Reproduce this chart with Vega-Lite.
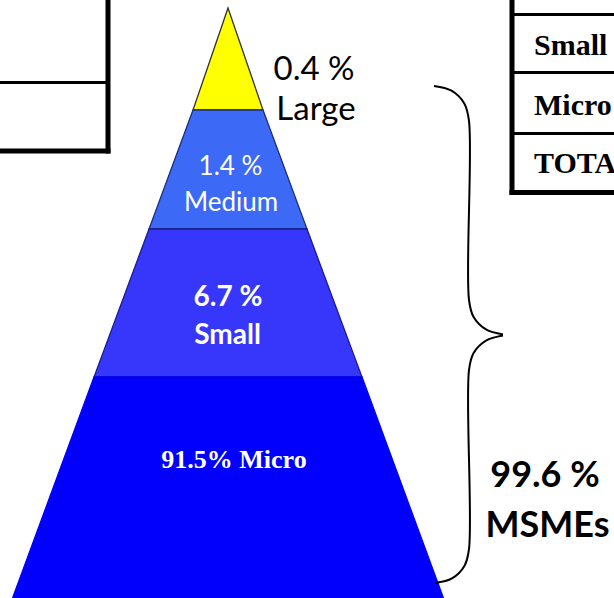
{
  "$schema": "https://vega.github.io/schema/vega-lite/v6.json",
  "width": 614,
  "height": 598,
  "padding": 0,
  "autosize": {"type": "none"},
  "background": "white",
  "config": {"view": {"stroke": null}},
  "datasets": {
    "tiers": [
      {"tier": "Large", "share": 0.4, "depth": 8, "left": 228, "right": 228},
      {"tier": "Large", "share": 0.4, "depth": 110, "left": 193, "right": 263},
      {"tier": "Medium", "share": 1.4, "depth": 110, "left": 193, "right": 263},
      {"tier": "Medium", "share": 1.4, "depth": 229, "left": 149, "right": 307},
      {"tier": "Small", "share": 6.7, "depth": 229, "left": 149, "right": 307},
      {"tier": "Small", "share": 6.7, "depth": 377, "left": 94, "right": 362},
      {"tier": "Micro", "share": 91.5, "depth": 377, "left": 94, "right": 362},
      {"tier": "Micro", "share": 91.5, "depth": 605, "left": 10, "right": 446}
    ],
    "brace": [
      {"half": "upper", "seq": 1, "x": 434, "y": 86},
      {"half": "upper", "seq": 2, "x": 451.5, "y": 90.7},
      {"half": "upper", "seq": 3, "x": 464.3, "y": 103.5},
      {"half": "upper", "seq": 4, "x": 469, "y": 121},
      {"half": "upper", "seq": 5, "x": 469, "y": 300},
      {"half": "upper", "seq": 6, "x": 473.6, "y": 317},
      {"half": "upper", "seq": 7, "x": 486, "y": 329.4},
      {"half": "upper", "seq": 8, "x": 503, "y": 334.5},
      {"half": "lower", "seq": 1, "x": 503, "y": 335.5},
      {"half": "lower", "seq": 2, "x": 486, "y": 340.6},
      {"half": "lower", "seq": 3, "x": 473.6, "y": 353},
      {"half": "lower", "seq": 4, "x": 469, "y": 370},
      {"half": "lower", "seq": 5, "x": 469, "y": 549},
      {"half": "lower", "seq": 6, "x": 464.4, "y": 566},
      {"half": "lower", "seq": 7, "x": 452, "y": 578.4},
      {"half": "lower", "seq": 8, "x": 435, "y": 583}
    ],
    "borders": [
      {"x1": 108, "x2": 108, "y1": -10, "y2": 151},
      {"x1": -10, "x2": 108, "y1": 151, "y2": 151},
      {"x1": 512, "x2": 512, "y1": -10, "y2": 192.5},
      {"x1": 512, "x2": 630, "y1": 192.5, "y2": 192.5}
    ],
    "gridlines": [
      {"x1": -10, "x2": 108, "y1": 82.5, "y2": 82.5},
      {"x1": 512, "x2": 630, "y1": 14.5, "y2": 14.5},
      {"x1": 512, "x2": 630, "y1": 72.5, "y2": 72.5},
      {"x1": 512, "x2": 630, "y1": 133.5, "y2": 133.5}
    ],
    "tableText": [
      {"label": "Small", "x": 534, "y": 55},
      {"label": "Micro", "x": 534, "y": 115},
      {"label": "TOTAL", "x": 534, "y": 173}
    ],
    "largeText": [
      {"label": "0.4 %", "x": 314, "y": 80},
      {"label": "Large", "x": 316, "y": 120}
    ],
    "mediumText": [
      {"label": "1.4 %", "x": 230.5, "y": 175},
      {"label": "Medium", "x": 231, "y": 211}
    ],
    "smallText": [
      {"label": "6.7 %", "x": 228, "y": 306},
      {"label": "Small", "x": 227.5, "y": 344}
    ],
    "microText": [
      {"label": "91.5% Micro", "x": 234, "y": 468}
    ],
    "totalText": [
      {"label": "99.6 %", "x": 545, "y": 487},
      {"label": "MSMEs", "x": 547.5, "y": 537}
    ]
  },
  "layer": [
    {
      "data": {"name": "tiers"},
      "mark": {"type": "area", "orient": "horizontal", "strokeWidth": 1.3, "strokeJoin": "miter"},
      "encoding": {
        "y": {"field": "depth", "type": "quantitative", "scale": {"domain": [0, 598], "nice": false, "zero": false, "reverse": true}, "axis": null},
        "x": {"field": "left", "type": "quantitative", "scale": {"domain": [0, 614], "nice": false, "zero": false}, "axis": null},
        "x2": {"field": "right"},
        "fill": {"field": "tier", "type": "nominal", "scale": {"domain": ["Micro", "Small", "Medium", "Large"], "range": ["#0000fc", "#3737fb", "#3c6af6", "#ffff00"]}, "legend": null},
        "stroke": {"field": "tier", "type": "nominal", "scale": {"domain": ["Micro", "Small", "Medium", "Large"], "range": ["#0000fc", "#1c1c8c", "#1b2f7a", "#303030"]}, "legend": null}
      }
    },
    {
      "data": {"name": "brace"},
      "mark": {"type": "line", "interpolate": "catmull-rom", "color": "black", "strokeWidth": 2},
      "encoding": {
        "x": {"field": "x", "type": "quantitative", "scale": {"domain": [0, 614], "nice": false, "zero": false}, "axis": null},
        "y": {"field": "y", "type": "quantitative", "scale": {"domain": [0, 598], "nice": false, "zero": false, "reverse": true}, "axis": null},
        "detail": {"field": "half", "type": "nominal"},
        "order": {"field": "seq", "type": "quantitative"}
      }
    },
    {
      "data": {"name": "borders"},
      "mark": {"type": "rule", "color": "black", "strokeWidth": 5, "strokeCap": "square"},
      "encoding": {
        "x": {"field": "x1", "type": "quantitative", "scale": {"domain": [0, 614], "nice": false, "zero": false}, "axis": null},
        "x2": {"field": "x2"},
        "y": {"field": "y1", "type": "quantitative", "scale": {"domain": [0, 598], "nice": false, "zero": false, "reverse": true}, "axis": null},
        "y2": {"field": "y2"}
      }
    },
    {
      "data": {"name": "gridlines"},
      "mark": {"type": "rule", "color": "black", "strokeWidth": 3},
      "encoding": {
        "x": {"field": "x1", "type": "quantitative", "scale": {"domain": [0, 614], "nice": false, "zero": false}, "axis": null},
        "x2": {"field": "x2"},
        "y": {"field": "y1", "type": "quantitative", "scale": {"domain": [0, 598], "nice": false, "zero": false, "reverse": true}, "axis": null},
        "y2": {"field": "y2"}
      }
    },
    {
      "data": {"name": "tableText"},
      "mark": {"type": "text", "align": "left", "baseline": "alphabetic", "font": "Liberation Serif", "fontWeight": "bold", "fontSize": 30, "color": "black"},
      "encoding": {
        "x": {"field": "x", "type": "quantitative", "scale": {"domain": [0, 614], "nice": false, "zero": false}, "axis": null},
        "y": {"field": "y", "type": "quantitative", "scale": {"domain": [0, 598], "nice": false, "zero": false, "reverse": true}, "axis": null},
        "text": {"field": "label"}
      }
    },
    {
      "data": {"name": "largeText"},
      "mark": {"type": "text", "align": "center", "baseline": "alphabetic", "font": "Lato", "fontSize": 33, "color": "black"},
      "encoding": {
        "x": {"field": "x", "type": "quantitative", "scale": {"domain": [0, 614], "nice": false, "zero": false}, "axis": null},
        "y": {"field": "y", "type": "quantitative", "scale": {"domain": [0, 598], "nice": false, "zero": false, "reverse": true}, "axis": null},
        "text": {"field": "label"}
      }
    },
    {
      "data": {"name": "mediumText"},
      "mark": {"type": "text", "align": "center", "baseline": "alphabetic", "font": "Lato", "fontSize": 26, "color": "white"},
      "encoding": {
        "x": {"field": "x", "type": "quantitative", "scale": {"domain": [0, 614], "nice": false, "zero": false}, "axis": null},
        "y": {"field": "y", "type": "quantitative", "scale": {"domain": [0, 598], "nice": false, "zero": false, "reverse": true}, "axis": null},
        "text": {"field": "label"}
      }
    },
    {
      "data": {"name": "smallText"},
      "mark": {"type": "text", "align": "center", "baseline": "alphabetic", "font": "Lato", "fontWeight": "bold", "fontSize": 28, "color": "white"},
      "encoding": {
        "x": {"field": "x", "type": "quantitative", "scale": {"domain": [0, 614], "nice": false, "zero": false}, "axis": null},
        "y": {"field": "y", "type": "quantitative", "scale": {"domain": [0, 598], "nice": false, "zero": false, "reverse": true}, "axis": null},
        "text": {"field": "label"}
      }
    },
    {
      "data": {"name": "microText"},
      "mark": {"type": "text", "align": "center", "baseline": "alphabetic", "font": "Liberation Serif", "fontWeight": "bold", "fontSize": 26, "color": "white"},
      "encoding": {
        "x": {"field": "x", "type": "quantitative", "scale": {"domain": [0, 614], "nice": false, "zero": false}, "axis": null},
        "y": {"field": "y", "type": "quantitative", "scale": {"domain": [0, 598], "nice": false, "zero": false, "reverse": true}, "axis": null},
        "text": {"field": "label"}
      }
    },
    {
      "data": {"name": "totalText"},
      "mark": {"type": "text", "align": "center", "baseline": "alphabetic", "font": "Lato", "fontWeight": "bold", "fontSize": 36, "color": "black"},
      "encoding": {
        "x": {"field": "x", "type": "quantitative", "scale": {"domain": [0, 614], "nice": false, "zero": false}, "axis": null},
        "y": {"field": "y", "type": "quantitative", "scale": {"domain": [0, 598], "nice": false, "zero": false, "reverse": true}, "axis": null},
        "text": {"field": "label"}
      }
    }
  ]
}
